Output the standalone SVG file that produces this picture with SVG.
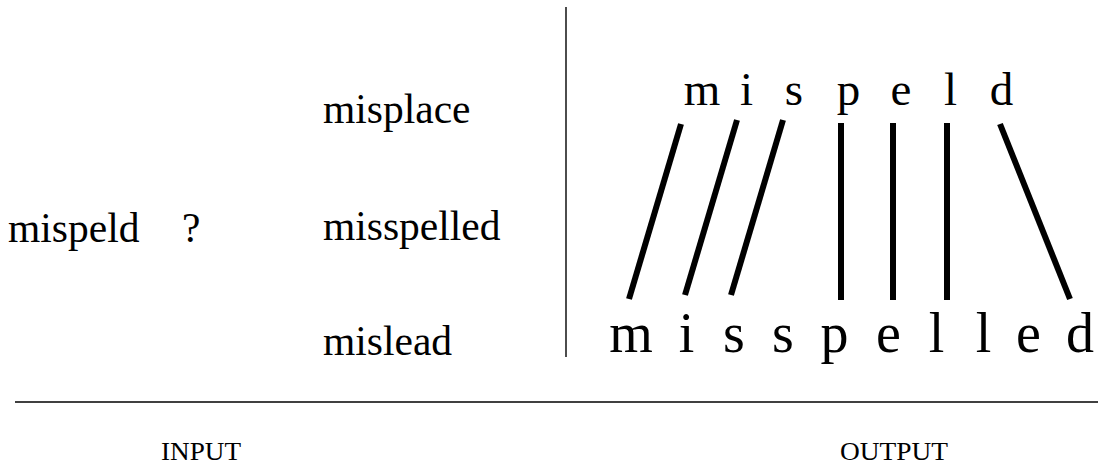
<svg xmlns="http://www.w3.org/2000/svg" width="1115" height="464" viewBox="0 0 1115 464">
<style>
text{font-family:"Liberation Serif","Times New Roman",serif;fill:#000}
.w{font-size:41.5px}
.top{font-size:47px;text-anchor:middle}
.bot{font-size:56px;text-anchor:middle}
.lab{font-size:25px}
.al{stroke:#000;stroke-width:6;fill:none}
.rule{stroke:#000;stroke-width:1.4;fill:none}
</style>
<rect width="1115" height="464" fill="#fff"/>
<g id="input">
<text class="w" x="8" y="242">mispeld</text>
<text class="w" x="182" y="242">?</text>
</g>
<g id="candidates">
<text class="w" x="323" y="123">misplace</text>
<text class="w" x="323" y="240">misspelled</text>
<text class="w" x="323" y="355">mislead</text>
</g>
<g id="query-word">
<text class="top" x="702" y="105">m</text>
<text class="top" x="746.5" y="105">i</text>
<text class="top" x="794" y="105">s</text>
<text class="top" x="848.5" y="105">p</text>
<text class="top" x="901" y="105">e</text>
<text class="top" x="950.5" y="105">l</text>
<text class="top" x="1001.5" y="105">d</text>
</g>
<g id="target-word">
<text class="bot" x="631" y="352">m</text>
<text class="bot" x="686.5" y="352">i</text>
<text class="bot" x="734" y="352">s</text>
<text class="bot" x="783" y="352">s</text>
<text class="bot" x="834.5" y="352">p</text>
<text class="bot" x="888.5" y="352">e</text>
<text class="bot" x="936.5" y="352">l</text>
<text class="bot" x="983.5" y="352">l</text>
<text class="bot" x="1028.5" y="352">e</text>
<text class="bot" x="1080" y="352">d</text>
</g>
<g id="connectors">
<line class="al" x1="681" y1="124" x2="629" y2="299"/>
<line class="al" x1="737" y1="120" x2="685" y2="295"/>
<line class="al" x1="783" y1="120" x2="731" y2="295"/>
<line class="al" x1="841" y1="123" x2="841" y2="300"/>
<line class="al" x1="893" y1="123" x2="893" y2="300"/>
<line class="al" x1="947" y1="123" x2="947" y2="300"/>
<line class="al" x1="1000" y1="124" x2="1070" y2="299"/>
</g>
<g id="rules">
<line class="rule" x1="566" y1="7" x2="566" y2="357"/>
<line class="rule" x1="15" y1="402" x2="1098" y2="402"/>
</g>
<g id="labels">
<text class="lab" x="161" y="460" textLength="80" lengthAdjust="spacingAndGlyphs">INPUT</text>
<text class="lab" x="840" y="460" textLength="108" lengthAdjust="spacingAndGlyphs">OUTPUT</text>
</g>
</svg>
